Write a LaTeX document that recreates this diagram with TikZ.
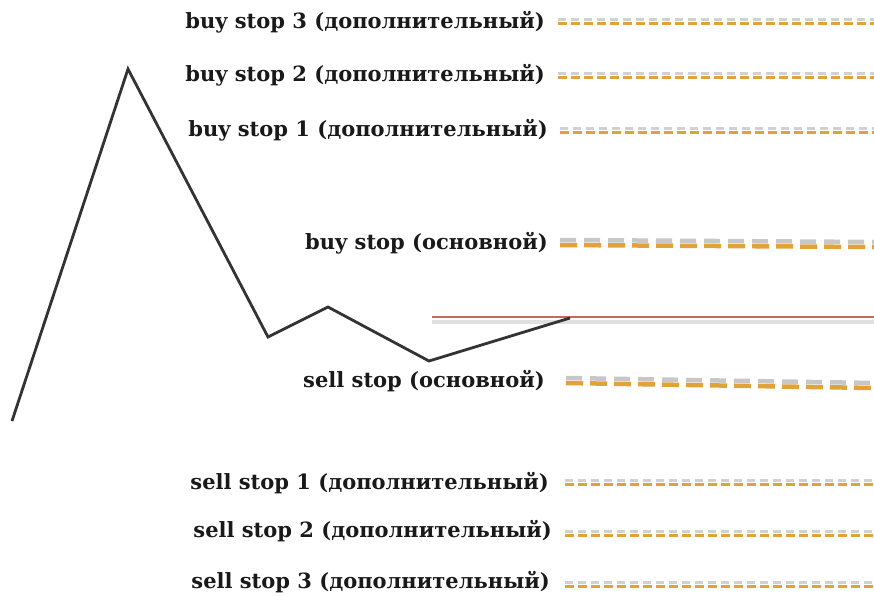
\documentclass[tikz,border=0pt]{standalone}
\usepackage{fontspec}
\setmainfont{DejaVu Serif}
\definecolor{stoporange}{RGB}{226,162,58}
\definecolor{levelred}{RGB}{200,105,85}
\begin{document}
\begin{tikzpicture}[x=1pt,y=-1pt,
  lbl/.style={anchor=east,inner sep=0pt,font=\bfseries\fontsize{21}{24}\selectfont,text=black!90},
  addline/.style={draw=stoporange,line width=3pt,dash pattern=on 9pt off 4pt},
  addshadow/.style={draw=black!18,line width=3pt,dash pattern=on 8pt off 5pt},
  mainline/.style={draw=stoporange,line width=4.5pt,dash pattern=on 17pt off 7pt},
  mainshadow/.style={draw=black!22,line width=4.5pt,dash pattern=on 16pt off 8pt},
  price/.style={draw=black!80,line width=2.8pt,line join=miter}]
\useasboundingbox (0,0) rectangle (874,595);
% labels
\node[lbl] (b3) at (545,22) {buy stop 3 (дополнительный)};
\node[lbl] (b2) at (545,75) {buy stop 2 (дополнительный)};
\node[lbl] (b1) at (548,130) {buy stop 1 (дополнительный)};
\node[lbl] (b0) at (548,243) {buy stop (основной)};
\node[lbl] (s0) at (545,381) {sell stop (основной)};
\node[lbl] (s1) at (549,483) {sell stop 1 (дополнительный)};
\node[lbl] (s2) at (552,531) {sell stop 2 (дополнительный)};
\node[lbl] (s3) at (550,582) {sell stop 3 (дополнительный)};
% end coordinates
\coordinate (b3a) at (558,23); \coordinate (b3b) at (874,23);
\coordinate (b2a) at (558,77); \coordinate (b2b) at (874,77);
\coordinate (b1a) at (560,132); \coordinate (b1b) at (874,132);
\coordinate (b0a) at (560,245); \coordinate (b0b) at (874,247);
\coordinate (s0a) at (566,383); \coordinate (s0b) at (874,388);
\coordinate (s1a) at (565,484); \coordinate (s1b) at (874,484);
\coordinate (s2a) at (565,535); \coordinate (s2b) at (874,535);
\coordinate (s3a) at (565,586); \coordinate (s3b) at (874,586);
% shadows (above the lines)
\foreach \n in {b3,b2,b1,s1,s2,s3}{
  \draw[addshadow] ([yshift=4pt]\n a) -- ([yshift=4pt]\n b);
}
\foreach \n in {b0,s0}{
  \draw[mainshadow] ([yshift=5pt]\n a) -- ([yshift=5pt]\n b);
}
% lines
\foreach \n in {b3,b2,b1,s1,s2,s3}{
  \draw[addline] (\n a) -- (\n b);
}
\foreach \n in {b0,s0}{
  \draw[mainline] (\n a) -- (\n b);
}
% red level line with shadow below
\coordinate (ra) at (432,317); \coordinate (rb) at (874,317);
\draw[black!12,line width=4pt] ([yshift=-5pt]ra) -- ([yshift=-5pt]rb);
\draw[draw=levelred,line width=1.8pt] (ra) -- (rb);
% price path
\coordinate (p0) at (12,421);
\coordinate (p1) at (128,69);
\coordinate (p2) at (268,337);
\coordinate (p3) at (328,307);
\coordinate (p4) at (429,361);
\coordinate (p5) at (570,318);
\draw[price] (p0) -- (p1) -- (p2) -- (p3) -- (p4) -- (p5);
\end{tikzpicture}
\end{document}
